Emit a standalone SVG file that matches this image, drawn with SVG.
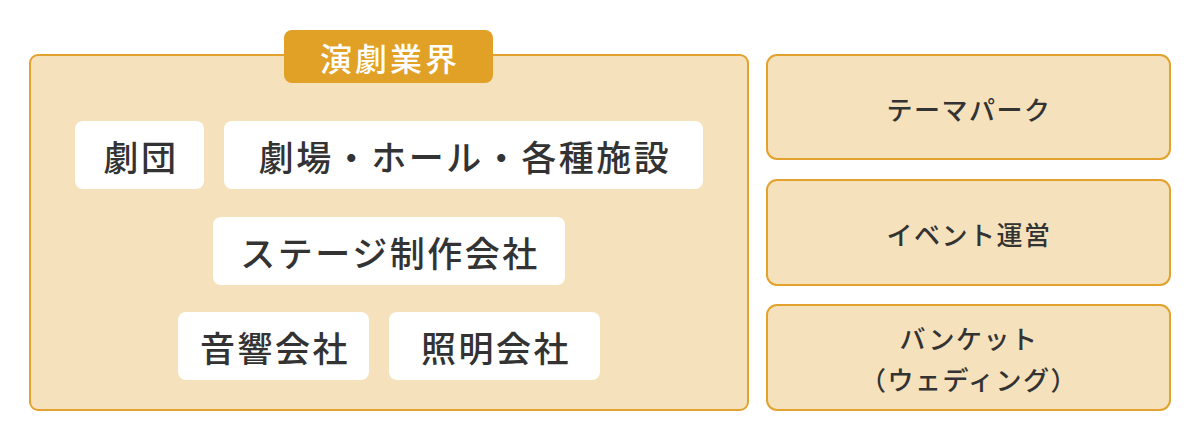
<svg xmlns="http://www.w3.org/2000/svg" width="1200" height="440" viewBox="0 0 1200 440">
<style>
text{font-family:"Noto Sans CJK JP","Noto Sans",sans-serif;text-anchor:middle;dominant-baseline:central;}
.frame{fill:#F5E2BD;stroke:#E3A22E;stroke-width:2;}
.chip{fill:#FFFFFF;}
.chipt{font-size:35px;font-weight:500;fill:#333333;letter-spacing:2.5px;}
.side{fill:#F5E2BD;stroke:#E3A22E;stroke-width:2;}
.sidet{font-size:26px;font-weight:500;fill:#333333;letter-spacing:1.5px;}
.badge{fill:#E1A026;}
.badget{font-size:32px;font-weight:500;fill:#FFFFFF;letter-spacing:3px;}
</style>
<rect width="1200" height="440" fill="#FFFFFF"/>
<g id="theater">
<rect class="frame" x="30" y="55" width="718" height="355" rx="8"/>
<rect class="badge" x="284" y="30" width="209" height="53" rx="8"/>
<text class="badget" x="390" y="57">演劇業界</text>
</g>
<g id="gekidan">
<rect class="chip" x="75" y="121" width="129" height="68" rx="8"/>
<text class="chipt" x="141" y="155">劇団</text>
</g>
<g id="gekijo">
<rect class="chip" x="224" y="121" width="479" height="68" rx="8"/>
<text class="chipt" x="465" y="155">劇場・ホール・各種施設</text>
</g>
<g id="stage">
<rect class="chip" x="213" y="217" width="352" height="68" rx="8"/>
<text class="chipt" x="390" y="251">ステージ制作会社</text>
</g>
<g id="onkyo">
<rect class="chip" x="178" y="312" width="191" height="68" rx="8"/>
<text class="chipt" x="275" y="346">音響会社</text>
</g>
<g id="shomei">
<rect class="chip" x="389" y="312" width="211" height="68" rx="8"/>
<text class="chipt" x="496" y="346">照明会社</text>
</g>
<g id="themepark">
<rect class="side" x="767" y="55" width="403" height="104" rx="10"/>
<text class="sidet" x="969" y="108">テーマパーク</text>
</g>
<g id="event">
<rect class="side" x="767" y="180" width="403" height="105" rx="10"/>
<text class="sidet" x="969" y="233">イベント運営</text>
</g>
<g id="banquet">
<rect class="side" x="767" y="305" width="403" height="105" rx="10"/>
<text class="sidet" x="969" y="337">バンケット</text>
<text class="sidet" x="969" y="378">（ウェディング）</text>
</g>
<g id="connectors"></g>
</svg>
